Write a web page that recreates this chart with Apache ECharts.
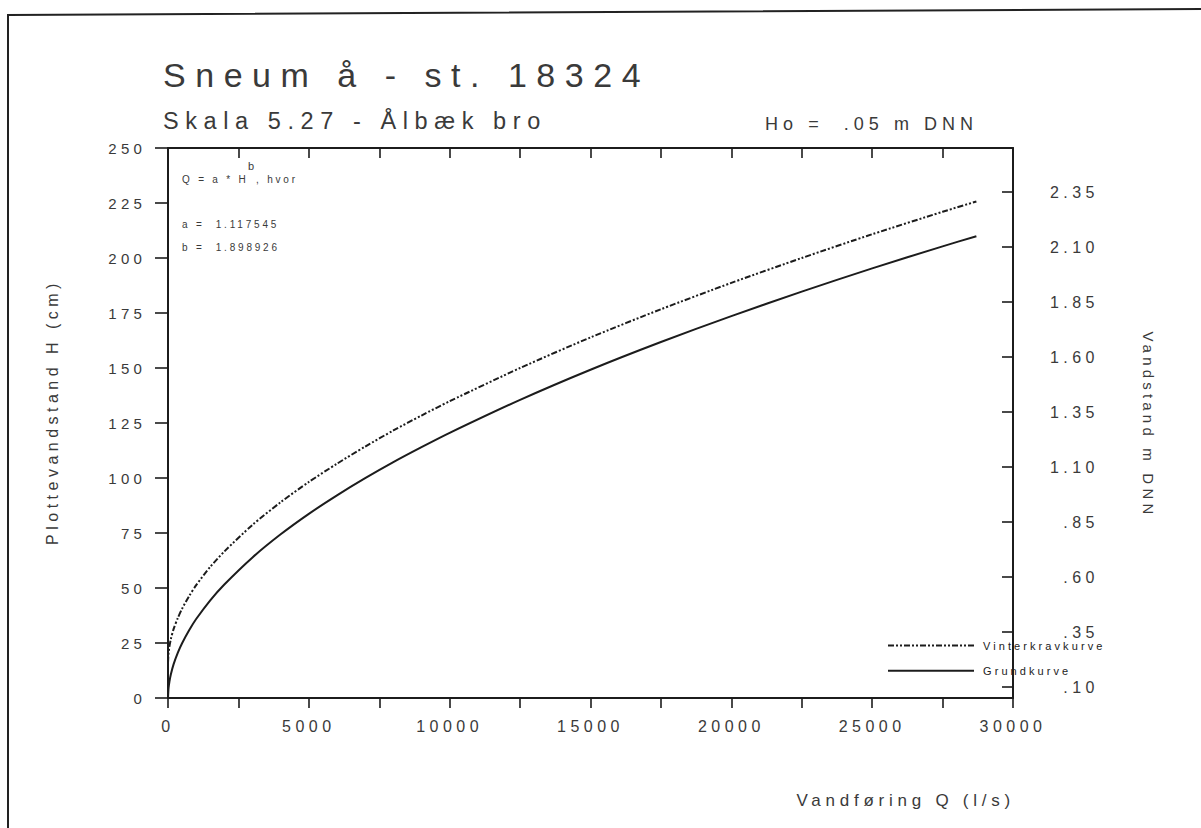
<!DOCTYPE html>
<html>
<head>
<meta charset="utf-8">
<script src="https://cdn.jsdelivr.net/npm/echarts@6/dist/echarts.min.js"></script>
<style>
  html, body { margin: 0; padding: 0; background: #ffffff; }
  #chart { width: 1201px; height: 828px; }
  #chart text { letter-spacing: 0.28em; }
</style>
</head>
<body>
<div id="chart"></div>
<script>
// ---- data ----
const titleText = 'Sneum å - st. 18324';
const subtitleText = 'Skala 5.27 - Ålbæk bro';
const hoText = 'Ho =  .05 m DNN';
const ho = 0.05;                       // m DNN, zero of the gauge
const coefA = '1.117545';
const coefB = '1.898926';

const xTickLabels = [0, 5000, 10000, 15000, 20000, 25000, 30000];
const rightTickValues = [0.10, 0.35, 0.60, 0.85, 1.10, 1.35, 1.60, 1.85, 2.10, 2.35];

// Grundkurve  (Q in l/s, H in cm)
const grundQ = [0, 20, 50, 100, 200, 350, 500, 750, 1000, 1500, 2000, 3000, 4000, 5000, 6000, 7000, 8000, 9000, 10000, 12500, 15000, 17500, 20000, 22500, 25000, 27500, 28700];
const grundH = [0, 4.6, 7.4, 10.7, 15.4, 20.6, 24.9, 30.8, 35.9, 44.4, 51.6, 63.9, 74.4, 83.7, 92.1, 99.9, 107.2, 114.0, 120.5, 135.5, 149.2, 161.8, 173.6, 184.7, 195.3, 205.3, 209.9];

// Vinterkravkurve
const vinterQ = [0, 20, 50, 100, 200, 350, 500, 750, 1000, 1500, 2000, 3000, 4000, 5000, 6000, 7000, 8000, 9000, 10000, 12500, 15000, 17500, 20000, 22500, 25000, 27500, 28700];
const vinterH = [16, 20.6, 23.4, 26.7, 31.4, 36.4, 40.6, 46.3, 51.3, 59.6, 66.6, 78.7, 89.0, 98.2, 106.5, 114.3, 121.6, 128.4, 134.9, 150.0, 163.9, 176.7, 188.7, 200.0, 210.8, 221.0, 225.7];

const seriesNames = ['Vinterkravkurve', 'Grundkurve'];

// ---- chart ----
const FONT = 'Liberation Sans';
const INK = '#1c1c1c';
const TXT = '#3a3a3a';

const chart = echarts.init(document.getElementById('chart'), null, { renderer: 'svg' });

const axisLine = { show: true, onZero: false, lineStyle: { color: INK, width: 2 } };
const tickStyle = { color: INK, width: 1.6 };

const option = {
  animation: false,
  backgroundColor: '#ffffff',
  textStyle: { fontFamily: FONT },
  grid: { left: 168, right: 188, top: 148, bottom: 130, containLabel: false },
  legend: {
    orient: 'vertical',
    left: 882,
    top: 635,
    itemWidth: 86,
    itemHeight: 14,
    itemGap: 14,
    selectedMode: false,
    data: seriesNames,
    itemStyle: { opacity: 0 },
    textStyle: { fontFamily: FONT, fontSize: 11, color: '#222', padding: [0, 0, 0, 4] }
  },
  xAxis: [
    {
      type: 'value', min: 0, max: 30000, interval: 2500, position: 'bottom',
      axisLine: axisLine,
      axisTick: { show: true, inside: false, length: 10, lineStyle: tickStyle },
      axisLabel: {
        margin: 20, fontSize: 16, color: TXT, fontFamily: FONT,
        formatter: v => (xTickLabels.indexOf(v) >= 0 ? String(v) : '')
      },
      splitLine: { show: false }
    },
    {
      type: 'value', min: 0, max: 30000, interval: 2500, position: 'top',
      axisLine: axisLine,
      axisTick: { show: true, inside: true, length: 10, lineStyle: tickStyle },
      axisLabel: { show: false },
      splitLine: { show: false }
    }
  ],
  yAxis: [
    {
      type: 'value', min: 0, max: 250, interval: 25, position: 'left',
      axisLine: axisLine,
      axisTick: { show: true, inside: false, length: 13, lineStyle: tickStyle },
      axisLabel: { margin: 22, fontSize: 15, color: TXT, fontFamily: FONT },
      splitLine: { show: false }
    },
    {
      type: 'value', min: ho, max: ho + 2.5, position: 'right',
      axisLine: axisLine,
      axisTick: { show: true, inside: true, length: 11, lineStyle: tickStyle, customValues: rightTickValues },
      axisLabel: {
        customValues: rightTickValues,
        align: 'right', margin: 86, fontSize: 16, color: TXT, fontFamily: FONT,
        formatter: v => (v < 1 ? v.toFixed(2).slice(1) : v.toFixed(2))
      },
      splitLine: { show: false }
    }
  ],
  series: [
    {
      name: seriesNames[0], type: 'line', xAxisIndex: 0, yAxisIndex: 0,
      data: vinterQ.map((q, i) => [q, vinterH[i]]),
      symbol: 'none', showSymbol: false, smooth: 0.25,
      lineStyle: { color: INK, width: 2, type: [6, 2, 2, 2, 2, 2] },
      itemStyle: { color: INK }
    },
    {
      name: seriesNames[1], type: 'line', xAxisIndex: 0, yAxisIndex: 0,
      data: grundQ.map((q, i) => [q, grundH[i]]),
      symbol: 'none', showSymbol: false, smooth: 0.25,
      lineStyle: { color: INK, width: 2, type: 'solid' },
      itemStyle: { color: INK }
    }
  ],
  graphic: [
    { type: 'polyline', shape: { points: [[8, 828], [8, 15], [1201, 9]] }, style: { stroke: '#222', lineWidth: 2, fill: null } },
    { type: 'text', x: 163, y: 75, style: { text: titleText, font: '34px ' + FONT, fill: TXT, align: 'left', verticalAlign: 'middle' } },
    { type: 'text', x: 163, y: 121, style: { text: subtitleText, font: '23.5px ' + FONT, fill: TXT, align: 'left', verticalAlign: 'middle' } },
    { type: 'text', x: 765, y: 124, style: { text: hoText, font: '18px ' + FONT, fill: TXT, align: 'left', verticalAlign: 'middle' } },
    { type: 'text', x: 182, y: 179, style: { text: 'Q = a * H', font: '10px ' + FONT, fill: TXT, align: 'left', verticalAlign: 'middle' } },
    { type: 'text', x: 248, y: 166, style: { text: 'b', font: '11px ' + FONT, fill: TXT, align: 'left', verticalAlign: 'middle' } },
    { type: 'text', x: 256, y: 179, style: { text: ', hvor', font: '10px ' + FONT, fill: TXT, align: 'left', verticalAlign: 'middle' } },
    { type: 'text', x: 182, y: 224, style: { text: 'a =  ' + coefA, font: '10px ' + FONT, fill: TXT, align: 'left', verticalAlign: 'middle' } },
    { type: 'text', x: 182, y: 247, style: { text: 'b =  ' + coefB, font: '10px ' + FONT, fill: TXT, align: 'left', verticalAlign: 'middle' } },
    { type: 'text', x: 52, y: 412, rotation: Math.PI / 2, style: { text: 'Plottevandstand H (cm)', font: '16px ' + FONT, fill: TXT, align: 'center', verticalAlign: 'middle' } },
    { type: 'text', x: 1148, y: 425, rotation: -Math.PI / 2, style: { text: 'Vandstand m DNN', font: '15px ' + FONT, fill: TXT, align: 'center', verticalAlign: 'middle' } },
    { type: 'text', x: 1015, y: 800, style: { text: 'Vandføring Q (l/s)', font: '17px ' + FONT, fill: TXT, align: 'right', verticalAlign: 'middle' } }
  ]
};

chart.setOption(option);
</script>
</body>
</html>
